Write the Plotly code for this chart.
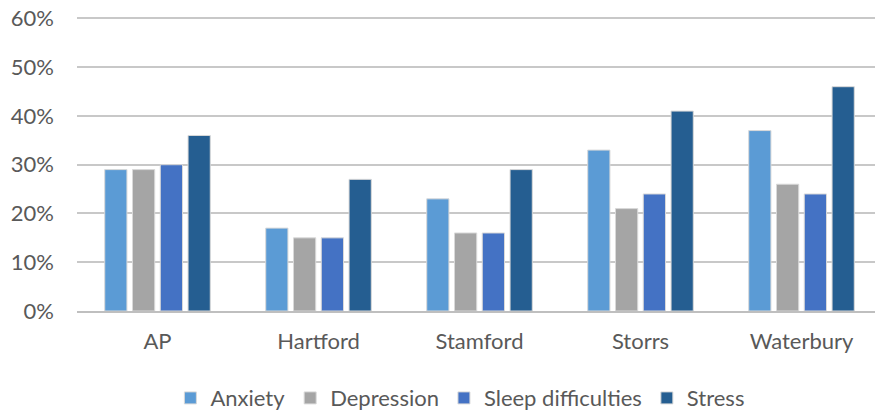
import plotly.graph_objects as go

categories = ["AP", "Hartford", "Stamford", "Storrs", "Waterbury"]
anxiety = [0.29, 0.17, 0.23, 0.33, 0.37]
depression = [0.29, 0.15, 0.16, 0.21, 0.26]
sleep = [0.30, 0.15, 0.16, 0.24, 0.24]
stress = [0.36, 0.27, 0.29, 0.41, 0.46]
y_ticks = [0, 0.1, 0.2, 0.3, 0.4, 0.5, 0.6]
y_ticktext = ["0%", "10%", "20%", "30%", "40%", "50%", "60%"]

series = [
    ("Anxiety", anxiety, "#5B9BD5"),
    ("Depression", depression, "#A5A5A5"),
    ("Sleep difficulties", sleep, "#4472C4"),
    ("Stress", stress, "#255E91"),
]

FONT = "Lato"
fig = go.Figure()
for name, vals, col in series:
    fig.add_trace(go.Bar(
        x=categories, y=vals, name=name,
        marker=dict(color=col, line=dict(color="#d9d9d9", width=1)),
    ))

# The page body adds an 8px offset, so the figure is sized to fit the window.
fig.update_layout(
    width=875, height=403,
    margin=dict(l=69, r=1, t=7.6, b=100, autoexpand=False),
    paper_bgcolor="white", plot_bgcolor="white",
    barmode="group", bargap=0.31, bargroupgap=0.2,
    font=dict(family=FONT, size=22, color="#595959"),
    showlegend=True,
    legend=dict(orientation="h", x=0.517, xanchor="center", xref="container",
                y=0.032, yanchor="middle", yref="container",
                font=dict(size=22, color="#595959"), itemwidth=30, traceorder="normal"),
    xaxis=dict(showgrid=False, showline=True, linecolor="#bfbfbf", linewidth=2,
               ticks="", automargin=False, ticklabelstandoff=10,
               tickfont=dict(size=22, color="#595959")),
    yaxis=dict(range=[0, 0.605], tickmode="array", tickvals=y_ticks, ticktext=y_ticktext,
               showgrid=True, gridcolor="#c8c8c8", gridwidth=2, zeroline=False, showline=False,
               ticks="", automargin=False, ticklabelstandoff=22, ticklabeloverflow="allow",
               tickfont=dict(size=22, color="#595959")),
)
fig.write_html("out.html")
